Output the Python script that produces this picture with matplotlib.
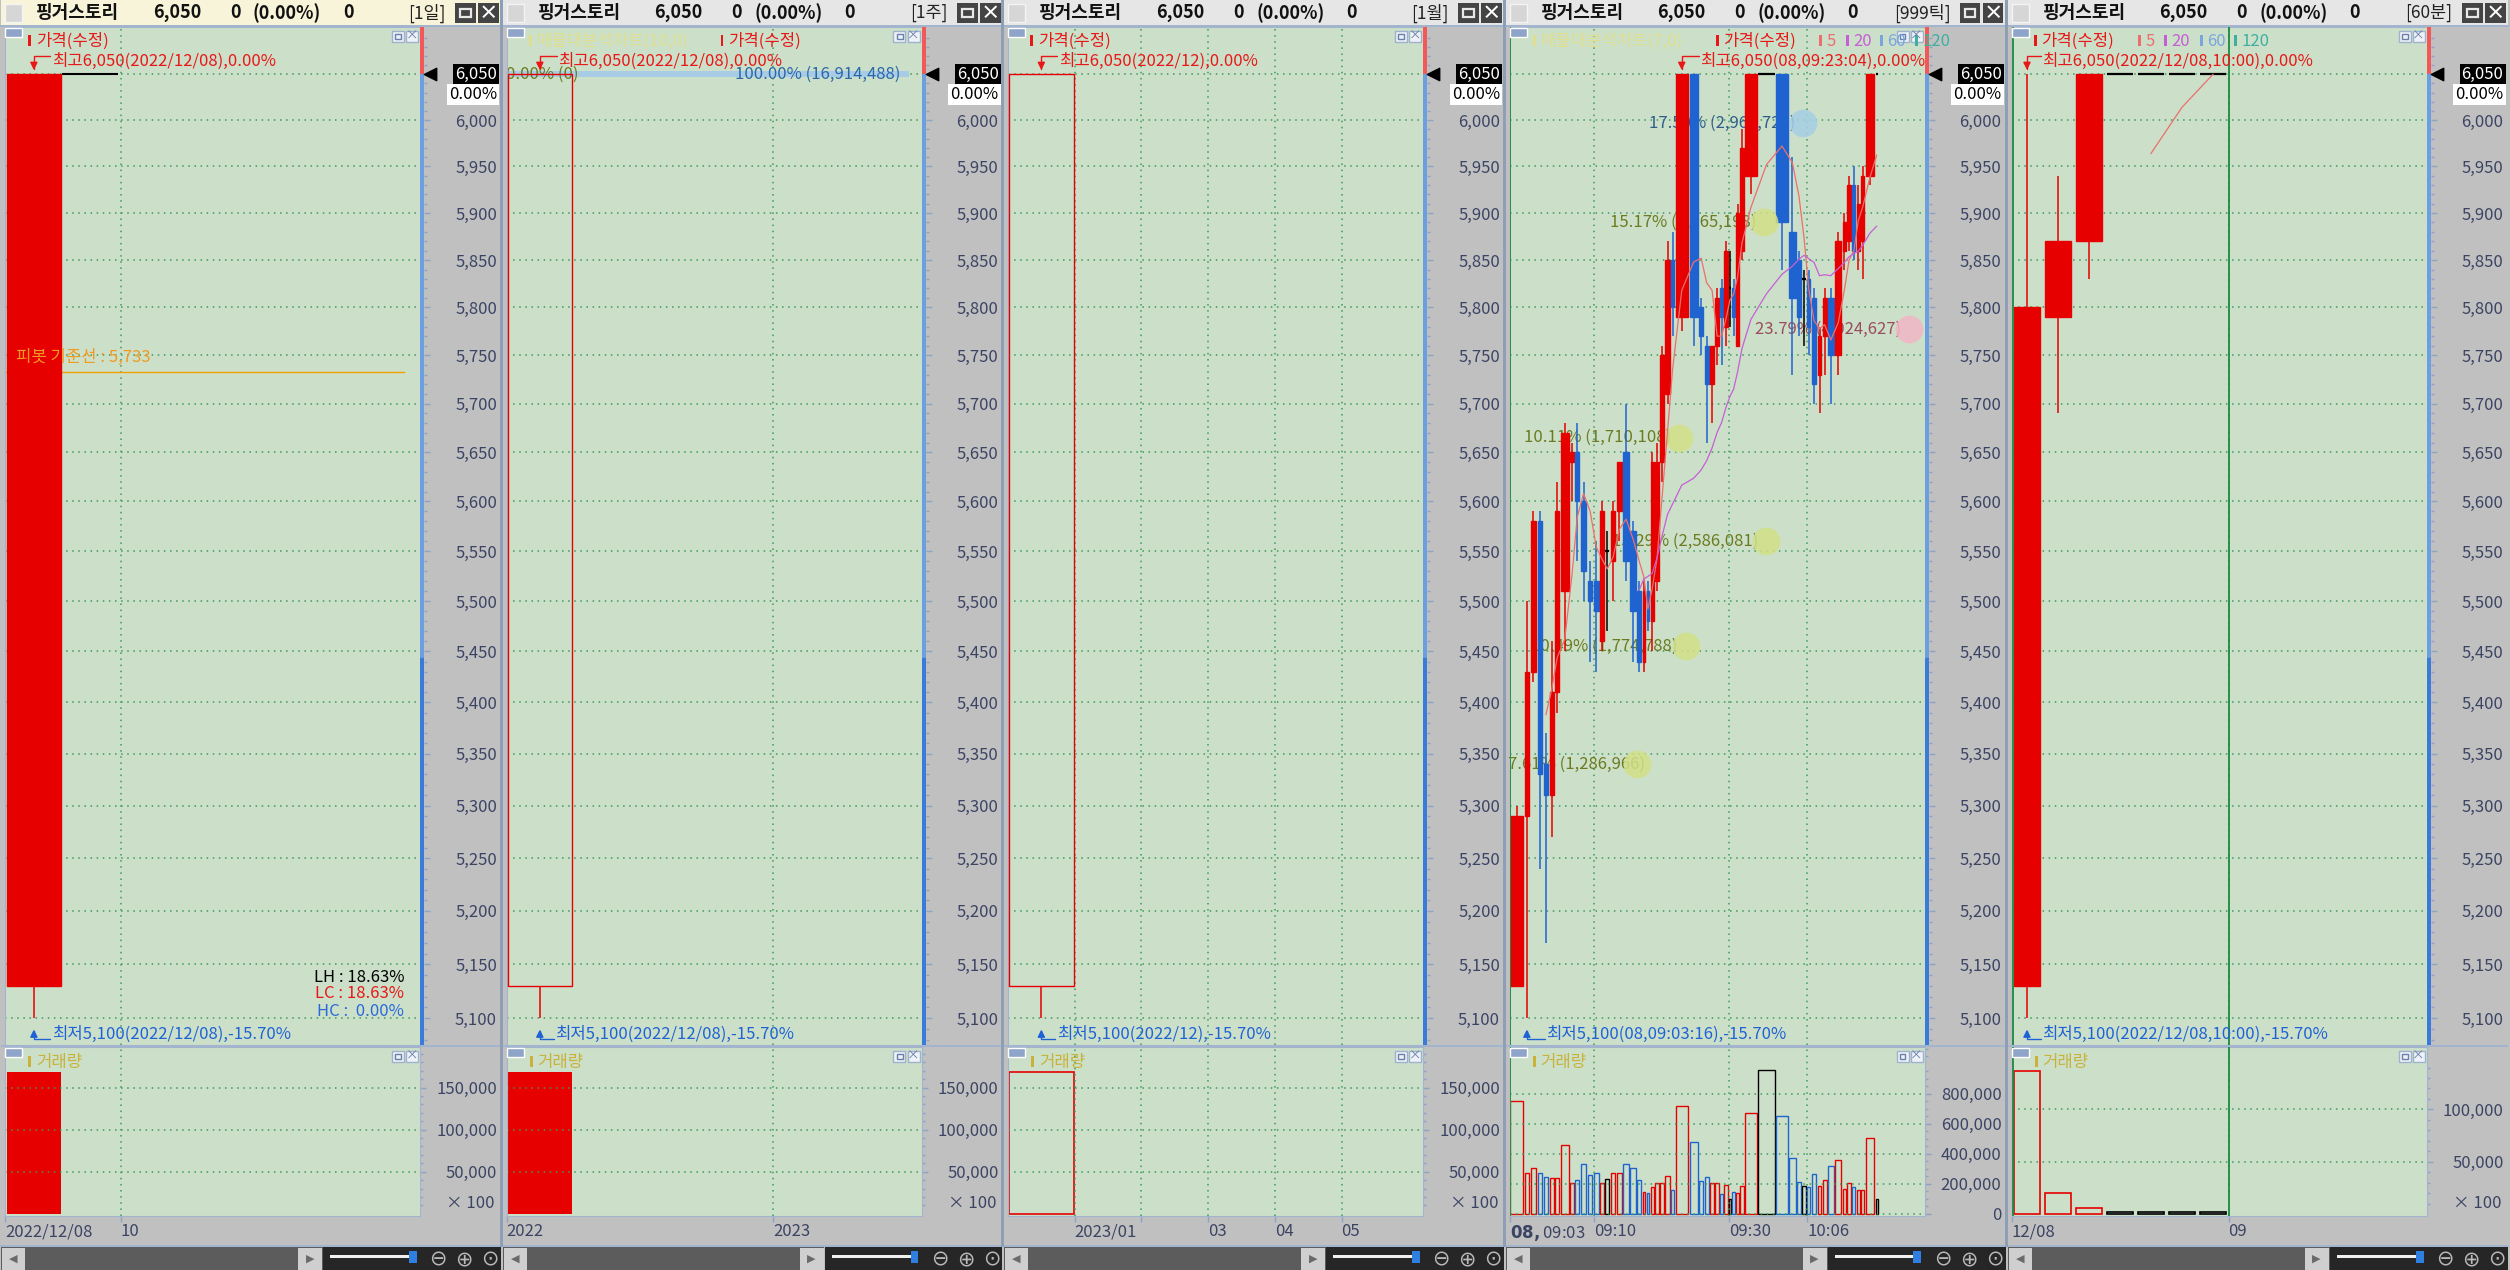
import numpy as np
import pandas as pd
import matplotlib
matplotlib.use('Agg')
import matplotlib.pyplot as plt
from matplotlib.patches import Rectangle
from matplotlib.ticker import NullFormatter
from matplotlib.transforms import blended_transform_factory

plt.rcParams['font.family'] = ['Noto Sans CJK KR', 'DejaVu Sans']
plt.rcParams['axes.unicode_minus'] = False

W, H = 2510, 1270
PX = 72 / 100          # points per pixel

# ---------------- data ----------------
stock_name = '핑거스토리'
cur_price = 6050
pivot_price = 5733
total_vol = 16914488
periods = ['[1일]', '[1주]', '[1월]', '[999틱]', '[60분]']
price_ticks = list(range(5100, 6051, 50))

# 일봉 / 주봉 / 월봉 (한 개 봉)
bar_open = [5130]
bar_high = [6050]
bar_low = [5100]
bar_close = [6050]
bar_vol = [169145]                 # x100
day_xticks = [-0.5, 1.5]
day_xlabels = ['2022/12/08', '10']
week_xticks = [-0.5, 3.5]
week_xlabels = ['2022', '2023']
mon_xticks = [0.5, 1.5, 2.5, 3.5, 4.5]
mon_xlabels = ['2023/01', '', '03', '04', '05']

# 999틱 (캔들볼륨)
tick_open = [5130, 5290, 5430, 5580, 5340, 5310, 5410, 5510, 5640, 5650,
             5600, 5520, 5520, 5460, 5550, 5540, 5590, 5650, 5570, 5510,
             5440, 5510, 5480, 5520, 5640, 5710, 5850, 5790, 6050, 5800,
             5760, 5720, 5760, 5820, 5780, 5820, 5820, 5760, 5860, 5940,
             6050, 6050, 5880, 5850, 5830, 5830, 5810, 5730, 5770, 5810,
             5750, 5860, 5870, 5930, 5860, 5870, 5940, 6050]
tick_high = [5300, 5500, 5590, 5590, 5370, 5460, 5620, 5680, 5660, 5680,
             5620, 5540, 5560, 5600, 5570, 5600, 5640, 5700, 5580, 5520,
             5520, 5520, 5650, 5660, 5760, 5870, 5880, 6050, 6050, 5810,
             5770, 5760, 5820, 5830, 5870, 5860, 5830, 5910, 5990, 6050,
             6050, 6050, 5960, 5860, 5840, 5840, 5820, 5780, 5820, 5820,
             5880, 5900, 5940, 5950, 5930, 5950, 6050, 6050]
tick_low = [5130, 5100, 5420, 5240, 5170, 5270, 5390, 5450, 5600, 5540,
            5500, 5440, 5430, 5450, 5470, 5500, 5560, 5520, 5440, 5430,
            5430, 5470, 5450, 5510, 5620, 5700, 5770, 5775, 5760, 5750,
            5660, 5680, 5740, 5740, 5760, 5780, 5770, 5760, 5850, 5920,
            6050, 5840, 5730, 5770, 5760, 5750, 5700, 5690, 5730, 5700,
            5730, 5840, 5860, 5850, 5840, 5830, 5930, 6050]
tick_close = [5290, 5430, 5580, 5330, 5310, 5410, 5590, 5670, 5650, 5600,
              5530, 5500, 5490, 5590, 5550, 5590, 5640, 5540, 5490, 5440,
              5510, 5480, 5640, 5640, 5750, 5850, 5800, 6050, 5790, 5770,
              5720, 5760, 5810, 5790, 5860, 5820, 5790, 5900, 5970, 6050,
              6050, 5890, 5810, 5790, 5830, 5780, 5720, 5770, 5810, 5750,
              5870, 5890, 5930, 5860, 5910, 5940, 6050, 6050]
tick_vol = [752000, 271000, 305000, 271000, 244000, 235000, 235000, 457000, 204000, 222000,
            331000, 255000, 271000, 204000, 233000, 271000, 271000, 329000, 302000, 222000,
            146000, 137000, 177000, 204000, 204000, 253000, 157000, 719000, 477000, 215000,
            244000, 204000, 204000, 130000, 193000, 96000, 146000, 137000, 186000, 670000,
            961000, 652000, 372000, 213000, 188000, 177000, 264000, 188000, 224000, 316000,
            361000, 166000, 204000, 177000, 157000, 157000, 506000, 99000]
tick_xtick_idx = [0, 12, 35, 45]
tick_xlabels = [r'$\mathbf{08,}$09:03', '09:10', '09:30', '10:06']

# 매물대 (999틱)
band_price = [5340, 5455, 5560, 5665, 5777, 5890, 5997]
band_pct = [7.61, 10.49, 15.29, 10.11, 23.79, 15.17, 17.50]
band_vol = [1286966, 1774788, 2586081, 1710108, 4024627, 2565198, 2966720]

# 60분
hour_open = [5130, 5790, 5870, 6050, 6050, 6050, 6050]
hour_high = [6050, 5940, 6050, 6050, 6050, 6050, 6050]
hour_low = [5100, 5690, 5830, 6050, 6050, 6050, 6050]
hour_close = [5800, 5870, 6050, 6050, 6050, 6050, 6050]
hour_vol = [137000, 19800, 5600, 1700, 1700, 1700, 1650]   # x100
hour_xticks = [-0.5, 6.5]
hour_xlabels = ['12/08', '09']

# ---------------- style ----------------
RED = '#e60000'
BLUE = '#1f63d0'
PLOT_BG = '#cce0c9'
BG = '#c0c0c0'
GRID = '#3d9a5e'
AX_TXT = '#3c4464'
FRAME = '#a2b4ce'
TICKC = '#8ea4c4'
SEP = '#1e8a40'
MA_COL = {'5': '#ec6e6e', '20': '#c65ed6', '60': '#78a6de', '120': '#3fb0a0'}

panel_x = [0, 501.5, 1003, 1504.5, 2006.5]
PL, PR = 5, 420
PT_, PB = 27, 1045
VT, VB = 1047, 1216
Y_CUR, LOGPX = 74.3, 5526.0
ytop = cur_price * np.exp((Y_CUR - PT_) / LOGPX)
ybot = cur_price * np.exp(-(PB - Y_CUR) / LOGPX)
blue_split = 5444

fig = plt.figure(figsize=(W / 100, H / 100), dpi=100)
fig.patch.set_facecolor(BG)


def ax_px(x0, y0, x1, y1, **kw):
    return fig.add_axes([x0 / W, 1 - y1 / H, (x1 - x0) / W, (y1 - y0) / H], **kw)


def rect_px(x0, y0, x1, y1, **kw):
    fig.add_artist(Rectangle((x0 / W, 1 - y1 / H), (x1 - x0) / W, (y1 - y0) / H,
                             transform=fig.transFigure, **kw))


def text_px(x, y, s, **kw):
    kw.setdefault('va', 'center')
    kw.setdefault('fontsize', 12)
    return fig.text(x / W, 1 - y / H, s, **kw)


def legend_item(x, y, label, color):
    rect_px(x, y - 6, x + 3, y + 5, facecolor=color, edgecolor='none')
    text_px(x + 8, y, label, color=color)


def candle_color(o, c):
    return RED if c > o else (BLUE if c < o else 'black')


def draw_candles(ax, x, o, h, l, c, width, hollow=False):
    width = np.broadcast_to(width, len(x))
    for xi, oi, hi, li, ci, wi in zip(x, o, h, l, c, width):
        col = candle_color(oi, ci)
        top, bot = max(oi, ci), min(oi, ci)
        if li < bot:
            ax.vlines(xi, li, bot, color=col, lw=1.1, zorder=3)
        if hi > top:
            ax.vlines(xi, top, hi, color=col, lw=1.1, zorder=3)
        if top == bot:
            ax.hlines(top, xi - wi / 2, xi + wi / 2, color=col, lw=1.6, zorder=3)
        else:
            ax.add_patch(Rectangle((xi - wi / 2, bot), wi, top - bot,
                                   facecolor='none' if hollow else col,
                                   edgecolor=col, lw=1.0, zorder=3))


def right_ticks(tax, pad_px):
    tax.yaxis.tick_right()
    tax.tick_params(axis='y', which='major', length=6 * PX, width=1, color=TICKC,
                    pad=pad_px * PX, labelsize=12, labelcolor=AX_TXT)
    tax.tick_params(axis='y', which='minor', length=3 * PX, width=1, color=TICKC)
    for t in tax.yaxis.get_major_ticks():
        t.label2.set_horizontalalignment('right')


def icons(ox, y0):
    rect_px(ox + 5, y0 + 1, ox + 22, y0 + 10, facecolor='#8ea4c8', edgecolor='white', lw=1)
    rect_px(ox + 392, y0 + 4, ox + 404, y0 + 15, facecolor='#eef2f8', edgecolor='#9fb2cc', lw=1)
    rect_px(ox + 395, y0 + 7, ox + 401, y0 + 12, facecolor='none', edgecolor='#6a80a8', lw=1)
    rect_px(ox + 406, y0 + 4, ox + 418, y0 + 15, facecolor='#eef2f8', edgecolor='#9fb2cc', lw=1)
    text_px(ox + 412, y0 + 9.5, '×', ha='center', color='#6a80a8', fontsize=9)


def make_panel(i, xlim, xticks, xlabels, vlim, vmajor, vminor, vlabels, x100, title_bg):
    ox = panel_x[i]
    # title bar
    rect_px(ox + 1, 0, ox + 501, 25, facecolor=title_bg, edgecolor='none')
    rect_px(ox + 5, 4, ox + 22, 22, facecolor='#d6d6d6', edgecolor='#f4f4f4', lw=1)
    tkw = dict(fontsize=13, fontweight='bold', color='#111111')
    text_px(ox + 36, 13, stock_name, **tkw)
    text_px(ox + 153, 13, f'{cur_price:,}', **tkw)
    text_px(ox + 230, 13, '0', **tkw)
    text_px(ox + 253, 13, '(0.00%)', **tkw)
    text_px(ox + 343, 13, '0', **tkw)
    text_px(ox + 446, 13, periods[i], ha='right', fontsize=12.5, color='#222222')
    rect_px(ox + 455, 3, ox + 476, 23, facecolor='#444444')
    rect_px(ox + 460, 9, ox + 471, 17, facecolor='none', edgecolor='#e8e8e8', lw=1.6)
    rect_px(ox + 478, 3, ox + 499, 23, facecolor='#444444')
    text_px(ox + 488.5, 13, '×', ha='center', color='white', fontsize=14, fontweight='bold')
    rect_px(ox, 25, ox + 502, 26.5, facecolor=FRAME)

    # price pane
    ax = ax_px(ox + PL, PT_, ox + PR, PB)
    ax.set_facecolor(PLOT_BG)
    ax.set_yscale('log')
    ax.set_ylim(ybot, ytop)
    ax.set_xlim(*xlim)
    ax.set_yticks(price_ticks)
    ax.set_yticklabels([f'{p:,}' if p != cur_price else '' for p in price_ticks])
    ax.set_yticks([p for p in range(5080, 6101, 10) if p % 50], minor=True)
    ax.yaxis.set_minor_formatter(NullFormatter())
    ax.set_xticks(xticks)
    ax.grid(True, which='major', color=GRID, ls=(0, (1, 3)), lw=1.1)
    ax.tick_params(which='both', length=0, labelleft=False, labelbottom=False)
    for s in ax.spines.values():
        s.set_color(FRAME)
    ax.spines['right'].set_visible(False)

    sax = ax_px(ox + PR, PT_, ox + PR + 4, PB, sharey=ax)
    sax.set_xlim(0, 1)
    sax.axhspan(cur_price, ytop, color='#f25858')
    sax.axhspan(blue_split, cur_price, color='#6c9fe0')
    sax.axhspan(ybot, blue_split, color='#3a7ad8')
    sax.set_xticks([])
    for s in sax.spines.values():
        s.set_visible(False)
    right_ticks(sax, 67)
    sax.tick_params(axis='y', which='both', left=False, labelleft=False)
    blend = blended_transform_factory(sax.transAxes, sax.transData)
    sax.scatter([2.6], [cur_price], marker='<', s=80, color='black', transform=blend,
                clip_on=False, zorder=5)
    sax.text(19.25, cur_price, f'{cur_price:,}', transform=blend, ha='right', va='center',
             color='white', fontsize=12, clip_on=False,
             bbox=dict(boxstyle='square,pad=0.12', fc='black', ec='none'))
    sax.annotate('0.00%', xy=(19.25, cur_price), xycoords=blend, xytext=(0, -20 * PX),
                 textcoords='offset points', ha='right', va='center', color='black',
                 fontsize=12, annotation_clip=False,
                 bbox=dict(boxstyle='square,pad=0.12', fc='white', ec='none'))
    icons(ox, PT_)

    # volume pane
    vax = ax_px(ox + PL, VT, ox + PR, VB, sharex=ax)
    vax.set_facecolor(PLOT_BG)
    vax.set_ylim(*vlim)
    vax.set_yticks(vmajor)
    vax.set_yticklabels(vlabels)
    vax.set_yticks(vminor, minor=True)
    vax.set_xticks(xticks)
    vax.set_xticklabels(xlabels)
    vax.grid(True, which='major', color=GRID, ls=(0, (1, 3)), lw=1.1)
    right_ticks(vax, 71)
    vax.tick_params(axis='x', length=6 * PX, width=1, color=TICKC, pad=1,
                    labelsize=12, labelcolor=AX_TXT)
    for t in vax.xaxis.get_major_ticks():
        t.label1.set_horizontalalignment('left')
    for s in vax.spines.values():
        s.set_color(FRAME)
    if x100:
        text_px(ox + 495, 1203, '× 100', ha='right', color=AX_TXT)
    rect_px(ox + 1, 1045, ox + 501, 1047, facecolor=FRAME)
    icons(ox, VT)
    legend_item(ox + 28, 1062, '거래량', '#c8b23c')

    # scroll bar
    rect_px(ox, 1245, ox + 502, 1247, facecolor=FRAME)
    rect_px(ox + 1, 1247, ox + 323, 1270, facecolor='#5c5c5c')
    rect_px(ox + 2, 1248, ox + 25, 1270, facecolor='#cfcfcf')
    rect_px(ox + 298, 1248, ox + 322, 1270, facecolor='#cfcfcf')
    text_px(ox + 13.5, 1259, '◀', ha='center', color='#6a6a6a', fontsize=8, family='DejaVu Sans')
    text_px(ox + 310, 1259, '▶', ha='center', color='#6a6a6a', fontsize=8, family='DejaVu Sans')
    rect_px(ox + 323, 1247, ox + 501, 1270, facecolor='#262626')
    rect_px(ox + 330, 1255, ox + 413, 1258, facecolor='#f0f0f0')
    rect_px(ox + 409, 1251, ox + 417, 1263, facecolor='#2f7fe0')
    for k, g in enumerate(['⊖', '⊕', '⊙']):
        text_px(ox + 438 + 26 * k, 1259, g, ha='center', color='#b8b8b8', fontsize=15,
                family='DejaVu Sans')
    return ax, vax


def hi_lo_marks(ax, i, x, hi, lo, hi_text, lo_text, tx_hi, tx_lo, clip=False):
    ox = panel_x[i]
    ax.annotate(hi_text, xy=(ox + tx_hi, H - 61), xycoords='figure pixels', va='center',
                color='#e81818', fontsize=12, clip_on=clip, annotation_clip=False, zorder=6)
    ax.annotate('', xy=(x[int(np.argmax(hi))], max(hi)), xytext=(ox + tx_hi - 2, H - 56),
                textcoords='figure pixels', annotation_clip=False,
                arrowprops=dict(arrowstyle='-|>,head_length=0.45,head_width=0.22',
                                connectionstyle='angle,angleA=0,angleB=90,rad=0',
                                color='#e81818', lw=1.0, shrinkA=0, shrinkB=3))
    ax.annotate(lo_text, xy=(ox + tx_lo, H - 1034), xycoords='figure pixels', va='center',
                color='#1f62d6', fontsize=12, annotation_clip=False, zorder=6)
    ax.annotate('', xy=(x[int(np.argmin(lo))], min(lo)), xytext=(ox + tx_lo - 2, H - 1039),
                textcoords='figure pixels', annotation_clip=False,
                arrowprops=dict(arrowstyle='-|>,head_length=0.45,head_width=0.22',
                                connectionstyle='angle,angleA=0,angleB=90,rad=0',
                                color='#1f62d6', lw=1.0, shrinkA=0, shrinkB=8))


def pct(p):
    return (p - cur_price) / cur_price * 100


hi_all, lo_all = max(bar_high), min(bar_low)
vol100 = dict(vlim=(-2738, 198452), vmajor=[50000, 100000, 150000],
              vminor=[v for v in range(10000, 200001, 10000) if v % 50000],
              vlabels=['50,000', '100,000', '150,000'], x100=True)

# ---------- panel 1 : 일 ----------
ax, vax = make_panel(0, (-0.5, -0.5 + 415 / 57.8), day_xticks, day_xlabels,
                     title_bg='#f8f4da', **vol100)
x1 = np.arange(len(bar_open))
draw_candles(ax, x1, bar_open, bar_high, bar_low, bar_close, 0.94)
ax.hlines(hi_all, 0.49, 1.45, color='black', lw=1.5, zorder=3)
ax.axhline(pivot_price, xmin=0, xmax=0.962, color='#f2a000', lw=1.0)
text_px(16, 357, f'피봇 기준선 : {pivot_price:,}', color='#f09a20')
vax.bar(x1, bar_vol, width=0.94, color=RED)
legend_item(28, 41, '가격(수정)', '#e81818')
hi_lo_marks(ax, 0, x1, bar_high, bar_low,
            f'최고{hi_all:,}(2022/12/08),{pct(hi_all):.2f}%',
            f'최저{lo_all:,}(2022/12/08),{pct(lo_all):.2f}%', 52, 52)
c0, h0, l0 = bar_close[0], bar_high[0], bar_low[0]
text_px(404, 977, f'LH : {(h0 - l0) / l0 * 100:.2f}%', ha='right', color='black')
text_px(404, 994, f'LC : {(c0 - l0) / l0 * 100:.2f}%', ha='right', color='#e81818')
text_px(404, 1011, f'HC :  {(h0 - c0) / c0 * 100:.2f}%', ha='right', color='#2a6ad8')

# ---------- panel 2 : 주 ----------
ax, vax = make_panel(1, (-0.5, -0.5 + 415 / 66.7), week_xticks, week_xlabels,
                     title_bg='#e6e6e6', **vol100)
draw_candles(ax, x1, bar_open, bar_high, bar_low, bar_close, 0.965, hollow=True)
ax.axhline(cur_price, xmin=0, xmax=0.963, color='#a8cce6', lw=6 * PX, zorder=2)
bl = blended_transform_factory(ax.transAxes, ax.transData)
ax.text(0.0, cur_price, '0.00% (0)', transform=bl, va='center', color='#6b7b1f',
        fontsize=12, zorder=2)
ax.text(0.948, cur_price, f'100.00% ({total_vol:,})', transform=bl, va='center', ha='right',
        color='#2a68a8', fontsize=12, zorder=2)
vax.bar(x1, bar_vol, width=0.965, color=RED)
ox = panel_x[1]
legend_item(ox + 27, 41, '매물대분석차트(10,0)', '#dede8e')
legend_item(ox + 219, 41, '가격(수정)', '#e81818')
hi_lo_marks(ax, 1, x1, bar_high, bar_low,
            f'최고{hi_all:,}(2022/12/08),{pct(hi_all):.2f}%',
            f'최저{lo_all:,}(2022/12/08),{pct(lo_all):.2f}%', 57, 54)

# ---------- panel 3 : 월 ----------
ax, vax = make_panel(2, (-0.5, -0.5 + 415 / 66.7), mon_xticks, mon_xlabels,
                     title_bg='#e6e6e6', **vol100)
draw_candles(ax, x1, bar_open, bar_high, bar_low, bar_close, 0.965, hollow=True)
vax.bar(x1, bar_vol, width=0.965, facecolor='none', edgecolor=RED, lw=1.2)
ox = panel_x[2]
legend_item(ox + 27, 41, '가격(수정)', '#e81818')
hi_lo_marks(ax, 2, x1, bar_high, bar_low,
            f'최고{hi_all:,}(2022/12),{pct(hi_all):.2f}%',
            f'최저{lo_all:,}(2022/12),{pct(lo_all):.2f}%', 56, 54)

# ---------- panel 4 : 999틱 ----------
tv = np.array(tick_vol, float)
TICK_GAP = 90000
t_left = np.concatenate([[0], np.cumsum(tv[:-1] + TICK_GAP)])
t_mid = t_left + tv / 2
x_lo = -30000
span = (t_left[-1] + tv[-1] - x_lo) * 415 / 368
ax, vax = make_panel(3, (x_lo, x_lo + span), list(t_left[tick_xtick_idx]), tick_xlabels,
                     vlim=(-15333, 1111333), vmajor=[0, 200000, 400000, 600000, 800000],
                     vminor=[v for v in range(50000, 1100001, 50000) if v % 200000],
                     vlabels=['0', '200,000', '400,000', '600,000', '800,000'],
                     x100=False, title_bg='#e6e6e6')
draw_candles(ax, t_mid, tick_open, tick_high, tick_low, tick_close, tv)
closes = pd.Series(tick_close, dtype=float)
ax.plot(t_mid, closes.rolling(5).mean(), color=MA_COL['5'], lw=0.9, zorder=5)
ax.plot(t_mid, closes.rolling(20).mean(), color=MA_COL['20'], lw=0.9, zorder=5)
for a in (ax, vax):
    a.axvline(t_left[0] - 8000, color=SEP, lw=1.3, zorder=4)
tcols = [candle_color(o, c) for o, c in zip(tick_open, tick_close)]
vax.bar(t_mid, tv, width=tv, facecolor='none', edgecolor=tcols, lw=1.0)

# 매물대
bl = blended_transform_factory(ax.transAxes, ax.transData)
renderer = fig.canvas.get_renderer()
ab = ax.get_window_extent(renderer)
top_band = int(np.argmax(band_pct))
cur_band = len(band_price) - 1
for k, (p, pc, v) in enumerate(zip(band_price, band_pct, band_vol)):
    if k == top_band:
        tc, cc = '#9a4c5c', '#f2b6c6'
    elif k == cur_band:
        tc, cc = '#2e5e88', '#a6cfe6'
    else:
        tc, cc = '#6b7b1f', '#d3df88'
    fx = pc / max(band_pct) * 0.963
    ax.scatter([fx], [p], s=400, color=cc, alpha=0.85, transform=bl, zorder=4, lw=0)
    t = ax.annotate(f'{pc:.2f}% ({v:,})', xy=(fx, p), xycoords=bl, xytext=(-8 * PX, 0),
                    textcoords='offset points', ha='right', va='center', color=tc,
                    fontsize=12, zorder=2)
    if t.get_window_extent(renderer).x0 < ab.x0:
        t.xy = (0, p)
        t.xyann = (-1 * PX, 0)
        t.set_ha('left')
ox = panel_x[3]
legend_item(ox + 28, 41, '매물대분석차트(7,0)', '#dede8e')
legend_item(ox + 211, 41, '가격(수정)', '#e81818')
legend_item(ox + 314, 41, '5', MA_COL['5'])
legend_item(ox + 341, 41, '20', MA_COL['20'])
legend_item(ox + 375, 41, '60', MA_COL['60'])
legend_item(ox + 410, 41, '120', MA_COL['120'])
hi_lo_marks(ax, 3, t_mid, tick_high, tick_low,
            f'최고{max(tick_high):,}(08,09:23:04),{pct(max(tick_high)):.2f}%',
            f'최저{min(tick_low):,}(08,09:03:16),{pct(min(tick_low)):.2f}%', 196, 42,
            clip=True)

# ---------- panel 5 : 60분 ----------
ax, vax = make_panel(4, (-0.5, -0.5 + 415 / 31), hour_xticks, hour_xlabels,
                     vlim=(-1912, 159656), vmajor=[50000, 100000],
                     vminor=[v for v in range(10000, 150001, 10000) if v % 50000],
                     vlabels=['50,000', '100,000'], x100=True, title_bg='#e6e6e6')
x5 = np.arange(len(hour_open))
draw_candles(ax, x5, hour_open, hour_high, hour_low, hour_close, 0.84)
hc = pd.Series(hour_close, dtype=float)
ax.plot(x5, hc.rolling(5).mean(), color=MA_COL['5'], lw=0.9, zorder=5)
hcols = [candle_color(o, c) for o, c in zip(hour_open, hour_close)]
vax.bar(x5, hour_vol, width=0.86, facecolor='none', edgecolor=hcols, lw=1.2)
for a in (ax, vax):
    a.axvline(-0.45, color=SEP, lw=1.3, zorder=4)
    a.axvline(6.5, color=SEP, lw=1.3, zorder=4)
ox = panel_x[4]
legend_item(ox + 27, 41, '가격(수정)', '#e81818')
legend_item(ox + 131, 41, '5', MA_COL['5'])
legend_item(ox + 157, 41, '20', MA_COL['20'])
legend_item(ox + 193, 41, '60', MA_COL['60'])
legend_item(ox + 227, 41, '120', MA_COL['120'])
hi_lo_marks(ax, 4, x5, hour_high, hour_low,
            f'최고{max(hour_high):,}(2022/12/08,10:00),{pct(max(hour_high)):.2f}%',
            f'최저{min(hour_low):,}(2022/12/08,10:00),{pct(min(hour_low)):.2f}%', 36, 36)

# panel separators
for xs in panel_x[1:]:
    rect_px(xs - 2, 0, xs + 1, 1247, facecolor='#8e9eb6')

fig.savefig('out.png', dpi=100, facecolor=BG)
